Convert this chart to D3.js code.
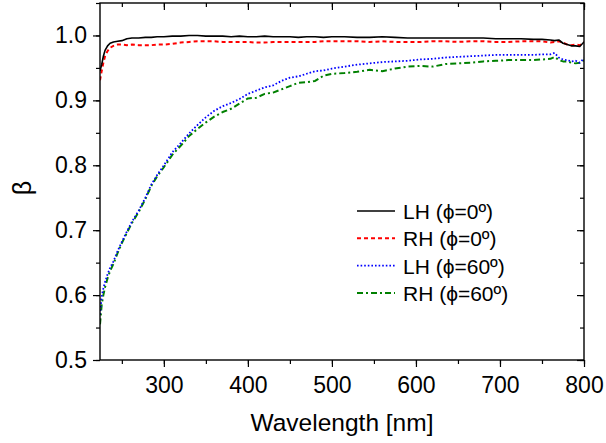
<!DOCTYPE html>
<html><head><meta charset="utf-8">
<script src="https://cdn.jsdelivr.net/npm/d3@7"></script>
<style>body{margin:0;background:#fff}svg{display:block}text{font-family:"Liberation Sans",Arial,sans-serif;fill:#000}</style>
</head><body>
<svg id="c" width="606" height="443"></svg>
<script>
const wavelengths = [224,226,228,230,233,236,240,245,250,256,262,270,278,285,292,300,310,320,330,340,350,360,370,380,390,400,410,420,430,440,450,460,470,480,490,500,515,530,545,560,575,590,605,620,635,650,665,680,695,710,725,740,750,760,765,770,775,780,785,790,795,800];
const lh0 = [0.945,0.955,0.968,0.977,0.984,0.988,0.990,0.991,0.992,0.995,0.996,0.996,0.997,0.997,0.998,0.998,0.999,0.999,1.000,1.000,0.999,0.999,0.999,0.998,0.999,0.998,0.998,0.999,0.998,0.998,0.998,0.997,0.998,0.998,0.997,0.998,0.998,0.997,0.997,0.998,0.997,0.996,0.996,0.996,0.996,0.996,0.996,0.996,0.995,0.995,0.995,0.994,0.994,0.993,0.992,0.993,0.988,0.986,0.984,0.984,0.983,0.990];
const rh0 = [0.931,0.945,0.958,0.968,0.976,0.981,0.984,0.986,0.986,0.985,0.986,0.985,0.985,0.985,0.986,0.986,0.987,0.989,0.990,0.991,0.991,0.991,0.990,0.990,0.990,0.990,0.989,0.989,0.990,0.990,0.990,0.990,0.990,0.990,0.991,0.991,0.991,0.991,0.990,0.991,0.990,0.990,0.990,0.991,0.991,0.990,0.991,0.991,0.990,0.990,0.991,0.991,0.991,0.989,0.990,0.991,0.989,0.986,0.985,0.986,0.985,0.990];
const lh60 = [0.570,0.598,0.610,0.620,0.632,0.642,0.652,0.668,0.682,0.698,0.713,0.730,0.750,0.770,0.785,0.800,0.820,0.834,0.849,0.862,0.874,0.884,0.891,0.896,0.902,0.910,0.915,0.920,0.923,0.930,0.935,0.937,0.941,0.945,0.946,0.949,0.952,0.955,0.957,0.959,0.960,0.961,0.963,0.964,0.966,0.967,0.968,0.969,0.970,0.970,0.970,0.970,0.971,0.971,0.973,0.966,0.963,0.962,0.960,0.961,0.958,0.965];
const rh60 = [0.555,0.585,0.600,0.612,0.626,0.637,0.648,0.665,0.680,0.696,0.711,0.728,0.748,0.768,0.783,0.797,0.816,0.830,0.845,0.856,0.866,0.875,0.882,0.887,0.895,0.903,0.904,0.910,0.912,0.917,0.922,0.927,0.928,0.930,0.938,0.941,0.942,0.944,0.947,0.945,0.949,0.952,0.953,0.952,0.956,0.957,0.958,0.960,0.961,0.962,0.962,0.962,0.963,0.964,0.967,0.962,0.960,0.960,0.958,0.957,0.958,0.962];
const seriesNames = ["LH (\u03D5=0\u00BA)","RH (\u03D5=0\u00BA)","LH (\u03D5=60\u00BA)","RH (\u03D5=60\u00BA)"];
const xTicks = [300,400,500,600,700,800];
const yTicks = [0.5,0.6,0.7,0.8,0.9,1.0];

const series = [
  {name:seriesNames[0], values:lh0, color:"#000000", dash:null, w:1.6},
  {name:seriesNames[1], values:rh0, color:"#ff0000", dash:"4,3", w:2},
  {name:seriesNames[2], values:lh60, color:"#0000ff", dash:"1.6,2", w:1.8},
  {name:seriesNames[3], values:rh60, color:"#008000", dash:"6,3,2,3", w:2}
];

const svg = d3.select("#c");
const L=100,R=584,T=3,B=360;
const x = d3.scaleLinear().domain([224,800]).range([L,R]);
const y = d3.scaleLinear().domain([0.5,1.05]).range([B,T]);

svg.append("clipPath").attr("id","cp").append("rect").attr("x",L).attr("y",T).attr("width",R-L).attr("height",B-T);
const line = d3.line().x(d=>x(d[0])).y(d=>y(d[1]));
const g = svg.append("g").attr("clip-path","url(#cp)");
series.slice().reverse().forEach(s=>{
  g.append("path").attr("d",line(wavelengths.map((w,i)=>[w,s.values[i]])))
   .attr("fill","none").attr("stroke",s.color).attr("stroke-width",s.w)
   .attr("stroke-dasharray",s.dash).attr("stroke-linejoin","round");
});

const xMinor = d3.range(250,801,50);
const yMinor = d3.range(0.5,1.051,0.05).map(v=>+v.toFixed(2));
function styleAxis(sel){sel.select(".domain").remove();sel.selectAll("line").attr("stroke","#000").attr("stroke-width",1.2);sel.selectAll("text").style("font-size","23px").attr("font-family","Liberation Sans, Arial, sans-serif");}
// bottom
svg.append("g").attr("transform",`translate(0,${B})`).call(d3.axisBottom(x).tickValues(xMinor).tickSize(4).tickFormat("")).call(styleAxis);
svg.append("g").attr("transform",`translate(0,${B})`).call(d3.axisBottom(x).tickValues(xTicks).tickSize(7).tickPadding(10).tickFormat(d3.format("d"))).call(styleAxis);
// top (inward)
svg.append("g").attr("transform",`translate(0,${T})`).call(d3.axisBottom(x).tickValues(xMinor).tickSize(4).tickFormat("")).call(styleAxis);
svg.append("g").attr("transform",`translate(0,${T})`).call(d3.axisBottom(x).tickValues(xTicks).tickSize(7).tickFormat("")).call(styleAxis);
// left
svg.append("g").attr("transform",`translate(${L},0)`).call(d3.axisLeft(y).tickValues(yMinor).tickSize(4).tickFormat("")).call(styleAxis);
svg.append("g").attr("transform",`translate(${L},0)`).call(d3.axisLeft(y).tickValues(yTicks).tickSize(7).tickPadding(6).tickFormat(d3.format(".1f"))).call(styleAxis);
// right (inward)
svg.append("g").attr("transform",`translate(${R},0)`).call(d3.axisLeft(y).tickValues(yMinor).tickSize(4).tickFormat("")).call(styleAxis);
svg.append("g").attr("transform",`translate(${R},0)`).call(d3.axisLeft(y).tickValues(yTicks).tickSize(7).tickFormat("")).call(styleAxis);

svg.append("rect").attr("x",L).attr("y",T).attr("width",R-L).attr("height",B-T).attr("fill","none").attr("stroke","#000").attr("stroke-width",1.4);

svg.append("text").attr("x",342).attr("y",431).attr("text-anchor","middle").style("font-size","24.5px").text("Wavelength [nm]");
svg.append("text").attr("transform","translate(31,188) rotate(-90)").attr("text-anchor","middle").style("font-size","25px").text("\u03B2");

const lg = svg.append("g");
series.forEach((s,i)=>{
  const yy = 211 + i*27.3;
  lg.append("line").attr("x1",357).attr("x2",395).attr("y1",yy).attr("y2",yy)
    .attr("stroke",s.color).attr("stroke-width",s.w).attr("stroke-dasharray",s.dash);
  lg.append("text").attr("x",403).attr("y",yy+8).style("font-size","21px").text(s.name);
});
</script>
</body></html>
